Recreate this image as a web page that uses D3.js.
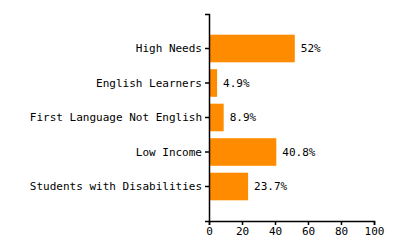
<!DOCTYPE html>
<html>
<head>
<meta charset="utf-8">
<script src="https://cdn.jsdelivr.net/npm/d3@7"></script>
<style>
  body { margin: 0; background: #fff; }
  svg { display: block; }
  text { font-family: "DejaVu Sans Mono", monospace; font-size: 11px; fill: #000; }
</style>
</head>
<body>
<svg id="chart" width="400" height="250"></svg>
<script>
const categories = ["High Needs", "English Learners", "First Language Not English", "Low Income", "Students with Disabilities"];
const values = [52, 4.9, 8.9, 40.8, 23.7];
const valueLabels = ["52%", "4.9%", "8.9%", "40.8%", "23.7%"];
const xTicks = [0, 20, 40, 60, 80, 100];

const svg = d3.select("#chart");
const margin = { top: 14, right: 26, bottom: 29, left: 209 };
const width = 400, height = 250;
const innerWidth = width - margin.left - margin.right;
const innerHeight = height - margin.top - margin.bottom;

const g = svg.append("g").attr("transform", `translate(${margin.left},${margin.top})`);

const x = d3.scaleLinear().domain([0, 100]).range([0, innerWidth]);
const y = d3.scaleBand().domain(categories).range([0, innerHeight])
  .paddingInner(0.2).paddingOuter(0.6);

g.selectAll("rect.bar")
  .data(values)
  .join("rect")
  .attr("class", "bar")
  .attr("x", 0)
  .attr("y", (d, i) => y(categories[i]))
  .attr("width", d => x(d))
  .attr("height", y.bandwidth())
  .attr("fill", "#ff8c00");

g.selectAll("text.val")
  .data(values)
  .join("text")
  .attr("class", "val")
  .attr("x", d => x(d) + 6)
  .attr("y", (d, i) => y(categories[i]) + y.bandwidth() / 2)
  .attr("dy", "0.35em")
  .text((d, i) => valueLabels[i]);

const yAxis = g.append("g").call(d3.axisLeft(y).tickSize(4).tickPadding(3));
yAxis.selectAll("text").style("font-size", null).style("font-family", null);

const xAxis = g.append("g")
  .attr("transform", `translate(0,${innerHeight})`)
  .call(d3.axisBottom(x).tickValues(xTicks).tickSize(4).tickPadding(2));

g.selectAll(".domain, .tick line").attr("stroke", "#000").attr("stroke-width", 1.5);
svg.selectAll(".tick text").attr("font-family", null).attr("font-size", null);
</script>
</body>
</html>
